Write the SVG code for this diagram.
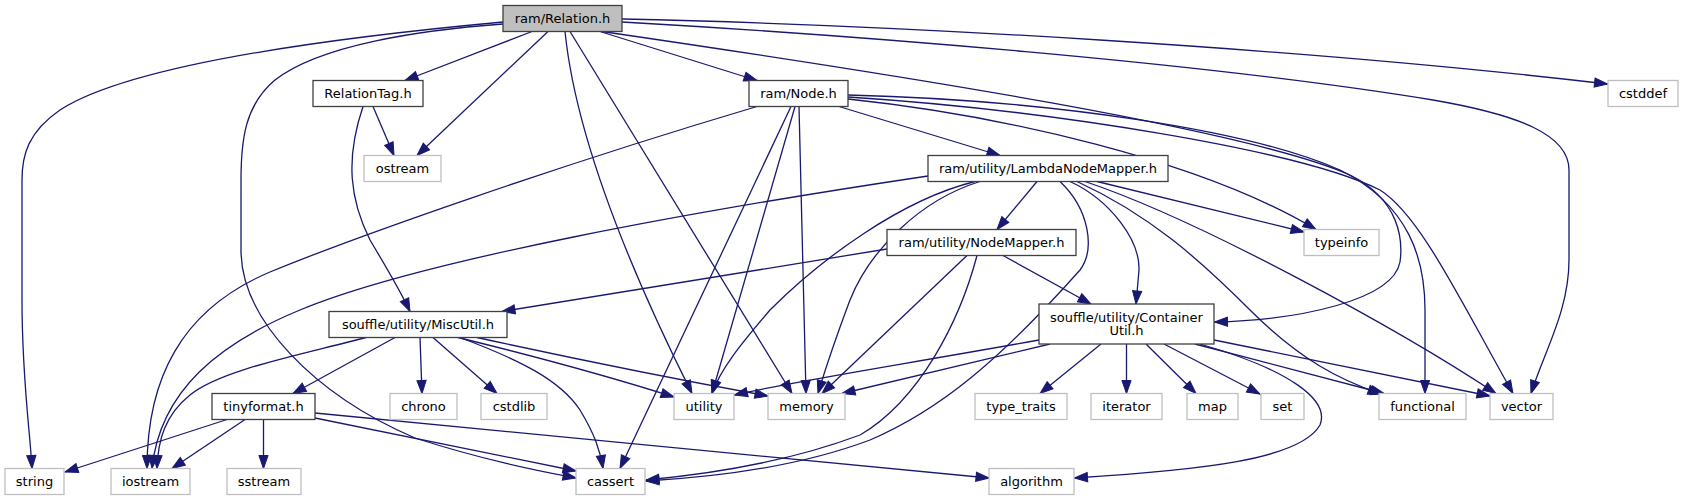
<svg xmlns="http://www.w3.org/2000/svg" width="1683" height="500" viewBox="0 0 1683 500">
<style>
.n rect{fill:#ffffff;stroke:#404040;stroke-width:1.3}
.x rect{fill:#ffffff;stroke:#bfbfbf;stroke-width:1.3}
.r rect{fill:#bfbfbf;stroke:#404040;stroke-width:1.3}
text{font-family:"DejaVu Sans","Liberation Sans",sans-serif;font-size:13px;fill:#000000;text-anchor:middle}
.e path{fill:none;stroke:#191970;stroke-width:1.3;marker-end:url(#a)}
</style>
<defs>
<marker id="a" markerUnits="userSpaceOnUse" markerWidth="16" markerHeight="12" viewBox="-14 -6 16 12" refX="0" refY="0" orient="auto">
<path d="M0,0 L-13,-4.6 L-13,4.6 Z" fill="#191970" stroke="#191970" stroke-width="1"/>
</marker>
</defs>
<rect width="1683" height="500" fill="#ffffff"/>
<g id="edges" class="e">
<path d="M532,31.5 L405,80.5"/>
<path d="M548,31.5 L417,155.5"/>
<path d="M600,31.5 L757,80.5"/>
<path d="M565,31.5 C575,130 625,260 692,393.5"/>
<path d="M570,31.5 L792,393.5"/>
<path d="M503,22 C330,38 130,65 60,110 C28,132 22,155 22,180 L22,300 C22,380 30,430 32,468.5"/>
<path d="M503,24 C420,30 320,45 275,80 C245,105 241,140 241,180 L241,250 C241,320 315,395 415,438 C490,462 545,472 576,478"/>
<path d="M622,19 C900,25 1300,48 1607.5,84"/>
<path d="M622,22 C850,35 1200,62 1433,100 C1520,115 1569,135 1569,170 L1569,260 C1569,310 1545,350 1531,393.5"/>
<path d="M602,31.5 C900,75 1250,130 1350,175 C1400,200 1403,240 1400,262 C1393,300 1300,320 1214.5,322"/>
<path d="M373,106.5 L394,155.5"/>
<path d="M363,106.5 C345,160 350,200 370,240 C385,265 400,290 410,311.5"/>
<path d="M839,106.5 L1000,155.5"/>
<path d="M757,106.5 C560,165 360,235 270,272 C180,310 147,380 147,468.5"/>
<path d="M791,106.5 L620,468.5"/>
<path d="M795,106.5 L712,393.5"/>
<path d="M799,106.5 L806,393.5"/>
<path d="M848,99 C1000,115 1200,160 1316,229.5"/>
<path d="M848,95 C1050,100 1250,130 1340,170 C1410,205 1425,260 1425,310 L1425,393.5"/>
<path d="M848,97 C1050,110 1300,150 1380,190 C1420,215 1460,300 1513,393.5"/>
<path d="M1037,181.5 L997,229.5"/>
<path d="M1097,181.5 L1304,232"/>
<path d="M1070,181.5 C1110,200 1140,240 1139,270 L1136,304"/>
<path d="M1077,181.5 C1150,215 1200,260 1250,310 C1300,360 1340,380 1381,394"/>
<path d="M1085,181.5 C1200,220 1400,330 1496,393.5"/>
<path d="M928,176 C700,210 420,260 300,310 C220,343 160,390 152,468.5"/>
<path d="M975,181.5 C900,200 820,260 770,310 C740,345 720,370 712,393.5"/>
<path d="M980,181.5 C920,200 870,250 850,300 C835,340 825,370 818,393.5"/>
<path d="M1060,181.5 C1090,210 1095,250 1080,270 C1000,360 940,410 870,440 C790,470 700,478 646,481"/>
<path d="M887,249 L502,311.5"/>
<path d="M967,255.5 L822,393.5"/>
<path d="M977,255.5 C960,320 920,400 860,435 C780,465 700,475 646,480"/>
<path d="M1003,255.5 L1091,304"/>
<path d="M395,337.5 L293,393.5"/>
<path d="M420,337.5 L422,393.5"/>
<path d="M433,337.5 L497,393.5"/>
<path d="M458,337.5 C550,360 620,380 674,397"/>
<path d="M477,337.5 C580,360 680,380 768,396"/>
<path d="M460,337.5 C520,360 560,380 580,410 C595,435 600,450 603,468.5"/>
<path d="M366,337.5 C300,355 220,370 190,395 C165,415 158,440 157,468.5"/>
<path d="M227,419.5 L65,472"/>
<path d="M245,419.5 L172,468.5"/>
<path d="M263.5,419.5 L263.5,468.5"/>
<path d="M315,418 L576,471"/>
<path d="M315,413 L989,478"/>
<path d="M1101,344 L1040,393.5"/>
<path d="M1126.5,344 L1126.5,393.5"/>
<path d="M1146,344 L1196,393.5"/>
<path d="M1164,344 L1260,394"/>
<path d="M1195,344 L1384,393.5"/>
<path d="M1214,340 L1490,396"/>
<path d="M1200,344 C1290,370 1330,400 1320,425 C1300,460 1200,470 1074.5,478"/>
<path d="M1039,340 C900,365 800,380 734.5,395"/>
<path d="M1050,344 L842,393.5"/>
</g>
<g id="node_relation" class="r"><rect x="503" y="5.5" width="119" height="26"/><text x="562.5" y="22.5">ram/Relation.h</text></g>
<g id="node_relationtag" class="n"><rect x="313" y="80.5" width="110" height="26"/><text x="368" y="97.5">RelationTag.h</text></g>
<g id="node_node" class="n"><rect x="749" y="80.5" width="99" height="26"/><text x="798.5" y="97.5">ram/Node.h</text></g>
<g id="node_cstddef" class="x"><rect x="1608" y="80.5" width="70" height="26"/><text x="1643" y="97.5">cstddef</text></g>
<g id="node_ostream" class="x"><rect x="364" y="155.5" width="77" height="26"/><text x="402.5" y="172.5">ostream</text></g>
<g id="node_lambda" class="n"><rect x="928" y="155.5" width="240" height="26"/><text x="1048" y="172.5">ram/utility/LambdaNodeMapper.h</text></g>
<g id="node_nodemapper" class="n"><rect x="887" y="229.5" width="189" height="26"/><text x="981.5" y="246.5">ram/utility/NodeMapper.h</text></g>
<g id="node_typeinfo" class="x"><rect x="1304" y="229.5" width="75" height="26"/><text x="1341.5" y="246.5">typeinfo</text></g>
<g id="node_miscutil" class="n"><rect x="329" y="311.5" width="178" height="26"/><text x="418" y="328.5">souffle/utility/MiscUtil.h</text></g>
<g id="node_containerutil" class="n"><rect x="1039" y="304" width="175" height="40"/><text x="1126.5" y="321.5">souffle/utility/Container</text><text x="1126.5" y="335">Util.h</text></g>
<g id="node_tinyformat" class="n"><rect x="212" y="393.5" width="103" height="26"/><text x="263.5" y="410.5">tinyformat.h</text></g>
<g id="node_chrono" class="x"><rect x="390" y="393.5" width="67" height="26"/><text x="423.5" y="410.5">chrono</text></g>
<g id="node_cstdlib" class="x"><rect x="481" y="393.5" width="66" height="26"/><text x="514" y="410.5">cstdlib</text></g>
<g id="node_utility" class="x"><rect x="674" y="393.5" width="60" height="26"/><text x="704" y="410.5">utility</text></g>
<g id="node_memory" class="x"><rect x="768" y="393.5" width="77" height="26"/><text x="806.5" y="410.5">memory</text></g>
<g id="node_type_traits" class="x"><rect x="975" y="393.5" width="92" height="26"/><text x="1021" y="410.5">type_traits</text></g>
<g id="node_iterator" class="x"><rect x="1091" y="393.5" width="71" height="26"/><text x="1126.5" y="410.5">iterator</text></g>
<g id="node_map" class="x"><rect x="1187" y="393.5" width="51" height="26"/><text x="1212.5" y="410.5">map</text></g>
<g id="node_set" class="x"><rect x="1261" y="393.5" width="43" height="26"/><text x="1282.5" y="410.5">set</text></g>
<g id="node_functional" class="x"><rect x="1379" y="393.5" width="87" height="26"/><text x="1422.5" y="410.5">functional</text></g>
<g id="node_vector" class="x"><rect x="1490" y="393.5" width="63" height="26"/><text x="1521.5" y="410.5">vector</text></g>
<g id="node_string" class="x"><rect x="5" y="468.5" width="59" height="26"/><text x="34.5" y="485.5">string</text></g>
<g id="node_iostream" class="x"><rect x="111" y="468.5" width="79" height="26"/><text x="150.5" y="485.5">iostream</text></g>
<g id="node_sstream" class="x"><rect x="227" y="468.5" width="74" height="26"/><text x="264" y="485.5">sstream</text></g>
<g id="node_cassert" class="x"><rect x="576" y="468.5" width="69" height="26"/><text x="610.5" y="485.5">cassert</text></g>
<g id="node_algorithm" class="x"><rect x="989" y="468.5" width="85" height="26"/><text x="1031.5" y="485.5">algorithm</text></g>
</svg>
